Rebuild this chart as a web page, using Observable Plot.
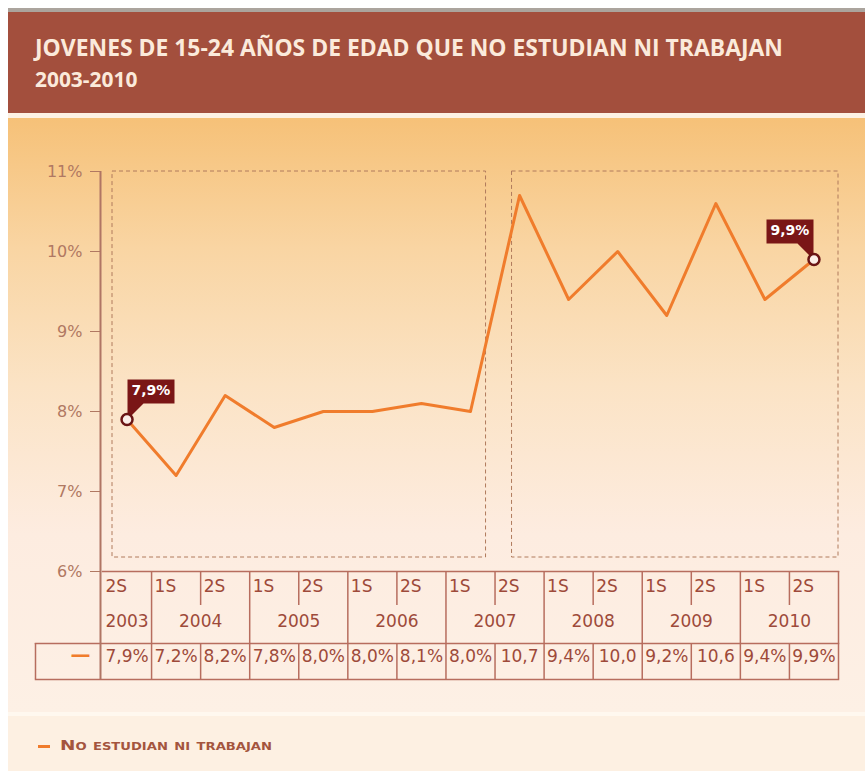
<!DOCTYPE html>
<html><head><meta charset="utf-8">
<script src="https://cdn.jsdelivr.net/npm/d3@7"></script>
<script src="https://cdn.jsdelivr.net/npm/@observablehq/plot@0.6"></script>
<style>
html,body{margin:0;padding:0;background:#fff;}
#page{position:relative;margin:8px 0 0 8px;width:857px;}
#strip{height:4px;background:#aba49d;}
#hdr{position:relative;height:101px;background:#a34f3d;overflow:hidden}
.t{position:absolute;left:27px;color:#fbeadb;font-family:"Open Sans",sans-serif;font-weight:700;white-space:nowrap;transform-origin:0 50%;line-height:1}
#t1{top:24px;font-size:23px}
#t2{top:57px;font-size:21px}
#cream{height:5px;background:#fdf1e3}
#chart{height:594px;background:linear-gradient(to bottom,#f6c178 0%,#f9d5a3 22%,#fbe3c5 45%,#fdece0 70%,#fdf0e5 100%)}
#chart svg{display:block}
#sep{height:4px;background:#fff8ef}
#foot{position:relative;height:55px;background:#fdf0e2}
#sw{position:absolute;left:30px;top:29px;width:12px;height:3px;background:#f07c2c}
#lg{position:absolute;left:52px;top:22px;font-family:"DejaVu Sans",sans-serif;font-weight:700;font-variant:small-caps;font-size:14px;color:#a4553e;white-space:nowrap;line-height:1;transform-origin:0 50%}
.callout text,.callout tspan{fill:#fff !important;}
</style></head>
<body>
<div id="page">
  <div id="strip"></div>
  <div id="hdr"><div class="t" id="t1"></div><div class="t" id="t2"></div></div>
  <div id="cream"></div>
  <div id="chart"></div>
  <div id="sep"></div>
  <div id="foot"><div id="sw"></div><div id="lg"></div></div>
</div>
<script>
const titleLine1 = "JOVENES DE 15-24 AÑOS DE EDAD QUE NO ESTUDIAN NI TRABAJAN";
const titleLine2 = "2003-2010";
const seriesName = "No estudian ni trabajan";
const periods = ["2S","1S","2S","1S","2S","1S","2S","1S","2S","1S","2S","1S","2S","1S","2S"];
const years = ["2003","2004","2005","2006","2007","2008","2009","2010"];
const values = [7.9,7.2,8.2,7.8,8.0,8.0,8.1,8.0,10.7,9.4,10.0,9.2,10.6,9.4,9.9];
const valueLabels = ["7,9%","7,2%","8,2%","7,8%","8,0%","8,0%","8,1%","8,0%","10,7","9,4%","10,0","9,2%","10,6","9,4%","9,9%"];
const yTicks = [6,7,8,9,10,11];
const boxSpans = [[0,7],[8,14]];

// header
const t1 = document.getElementById("t1"), t2 = document.getElementById("t2");
t1.textContent = titleLine1; t2.textContent = titleLine2;
const k = 748 / t1.getBoundingClientRect().width;
t1.style.transform = `scaleX(${k})`; t2.style.transform = `scaleX(${k})`;
const lg = document.getElementById("lg");
lg.textContent = seriesName;
lg.style.transform = `scaleX(${212 / lg.getBoundingClientRect().width})`;

// data table
const rows = values.map((v,i)=>({i, v, period: periods[i], label: valueLabels[i]}));
let yr = 0; rows.forEach((d,i)=>{ if (i>0 && d.period==="1S") yr++; d.year = yr; });
const yearCenters = years.map((y,k)=>{ const ii = rows.filter(d=>d.year===k).map(d=>d.i); return {year:y, x:(d3.min(ii)+d3.max(ii))/2}; });
const yearBounds = years.map((y,k)=>d3.max(rows.filter(d=>d.year===k), d=>d.i)+0.5);
const innerBounds = rows.filter((d,i)=>i>0 && d.year===rows[i-1].year).map(d=>d.i-0.5);
const first = rows[0], last = rows[rows.length-1];

const W = 857, H = 594, ML = 94, MR = 27, MT = 53, MB = 141;
const frameH = H - MT - MB;
const LINE = "#b76d5e", TXT = "#9e4a3a", FS = 17;
const tipStyle = {x:"i", y:"v", title:"label", fill:"#7a1616", stroke:"none", pathFilter:"none", fontSize:14, fontWeight:"bold", textPadding:4, pointerSize:16, className:"callout"};

const plot = Plot.plot({
  width: W, height: H, marginLeft: ML, marginRight: MR, marginTop: MT, marginBottom: MB,
  style: {background:"transparent", overflow:"visible", fontFamily:"'DejaVu Sans', Verdana, sans-serif"},
  x: {domain: [-0.5, values.length-0.5], axis: null},
  y: {domain: [d3.min(yTicks), d3.max(yTicks)], axis: null},
  marks: [
    Plot.rect([boxSpans[0]], {x1: d=>d[0]-0.5, x2: d=>d[1]+0.5, insetLeft:10, insetRight:9, insetBottom:14, fill:"none", stroke:"#b07a5c", strokeDasharray:"4,3", strokeWidth:1}),
    Plot.rect([boxSpans[1]], {x1: d=>d[0]-0.5, x2: d=>d[1]+0.5, insetLeft:17, insetRight:0, insetBottom:14, fill:"none", stroke:"#b07a5c", strokeDasharray:"4,3", strokeWidth:1}),
    Plot.frame({anchor:"bottom", stroke: LINE, strokeWidth:1.5}),
    Plot.frame({anchor:"bottom", stroke: LINE, strokeWidth:1.5, insetLeft:-67, insetBottom:-72}),
    Plot.frame({anchor:"bottom", stroke: LINE, strokeWidth:1.5, insetLeft:-67, insetBottom:-108}),
    Plot.ruleX(yearBounds, {x: d=>d, stroke: LINE, strokeWidth:1.5, insetTop: frameH, insetBottom: -108}),
    Plot.ruleX(innerBounds, {x: d=>d, stroke: LINE, strokeWidth:1.5, insetTop: frameH, insetBottom: -34}),
    Plot.ruleX(innerBounds, {x: d=>d, stroke: LINE, strokeWidth:1.5, insetTop: frameH+72, insetBottom: -108}),
    Plot.ruleX([-0.5], {x: d=>d, dx:-67, stroke: LINE, strokeWidth:1.5, insetTop: frameH+72, insetBottom:-108}),
    Plot.ruleX([-0.5], {x: d=>d, dx:-2, stroke:"#b07564", strokeWidth:2, insetBottom:-108}),
    Plot.axisY(yTicks, {anchor:"left", label:null, dx:-2, tickSize:10, tickPadding:8, tickFormat: d=>d+"%", color:"#b07862", fontSize:16}),
    Plot.text(rows, {x: d=>d.i-0.5, text:"period", frameAnchor:"bottom", textAnchor:"start", dx:3, dy:20, fill:TXT, fontSize:FS}),
    Plot.text(yearCenters, {x:"x", text:"year", frameAnchor:"bottom", dy:55, fill:TXT, fontSize:FS}),
    Plot.text(rows, {x:"i", text:"label", frameAnchor:"bottom", dy:90, fill:TXT, fontSize:FS}),
    Plot.text(["—"], {text: d=>d, frameAnchor:"bottom-left", dx:-32, dy:89, fill:"#f07c2c", fontSize:20, fontWeight:"bold"}),
    Plot.line(rows, {x:"i", y:"v", stroke:"#f07c2c", strokeWidth:3}),
    Plot.tip([first], {...tipStyle, anchor:"bottom-left"}),
    Plot.tip([last], {...tipStyle, anchor:"bottom-right"}),
    Plot.dot([first, last], {x:"i", y:"v", r:5.5, fill:"#fbeee8", stroke:"#6a1414", strokeWidth:2.5})
  ]
});
document.getElementById("chart").appendChild(plot);
</script>
</body></html>
